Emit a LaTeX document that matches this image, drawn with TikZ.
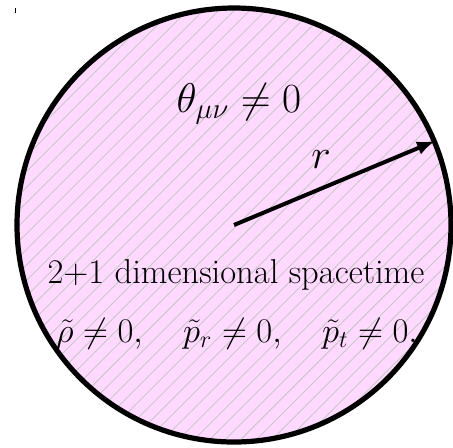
\documentclass[tikz,border=0pt]{standalone}
\usetikzlibrary{patterns.meta,arrows.meta}
\definecolor{diskpink}{RGB}{255,217,255}
\definecolor{hatchgray}{RGB}{200,200,200}
\tikzset{
  bigtext/.style={font=\fontsize{17.28}{21}\selectfont, anchor=base, inner sep=0pt},
  hugetext/.style={font=\fontsize{19.5}{23}\selectfont, anchor=base, inner sep=0pt},
  disk/.style={fill=diskpink},
  hatch/.style={pattern={Lines[angle=45,distance=5.5pt,line width=0.45pt]}, pattern color=hatchgray},
  rim/.style={draw=black, line width=2.6pt},
  radius arrow/.style={line width=2pt, -{Latex[length=9pt,width=7pt]}}
}
\begin{document}
\begin{tikzpicture}[x=0.5pt,y=-0.5pt]
  \useasboundingbox (0,0) rectangle (453,447);
  \coordinate (c) at (234,225);
  \coordinate (tip) at (435,141);
  \fill[disk] (c) circle[radius=217];
  \fill[hatch] (c) circle[radius=217];
  \draw[rim] (c) circle[radius=217];
  \draw[radius arrow] (c) -- (tip);
  \node[hugetext] (theta) at (239,112) {$\theta_{\mu\nu}\neq 0$};
  \node[hugetext] (r) at (321,168) {$r$};
  \node[bigtext] (dim) at (236,283) {2+1 dimensional spacetime};
  \node[bigtext] (dens) at (237,342) {$\tilde\rho\neq 0,\quad \tilde p_r\neq 0,\quad \tilde p_t\neq 0.$};
  \coordinate (t1) at (15,8);
  \coordinate (t2) at (15,13);
  \draw[line width=0.5pt] (t1) -- (t2);
\end{tikzpicture}
\end{document}
